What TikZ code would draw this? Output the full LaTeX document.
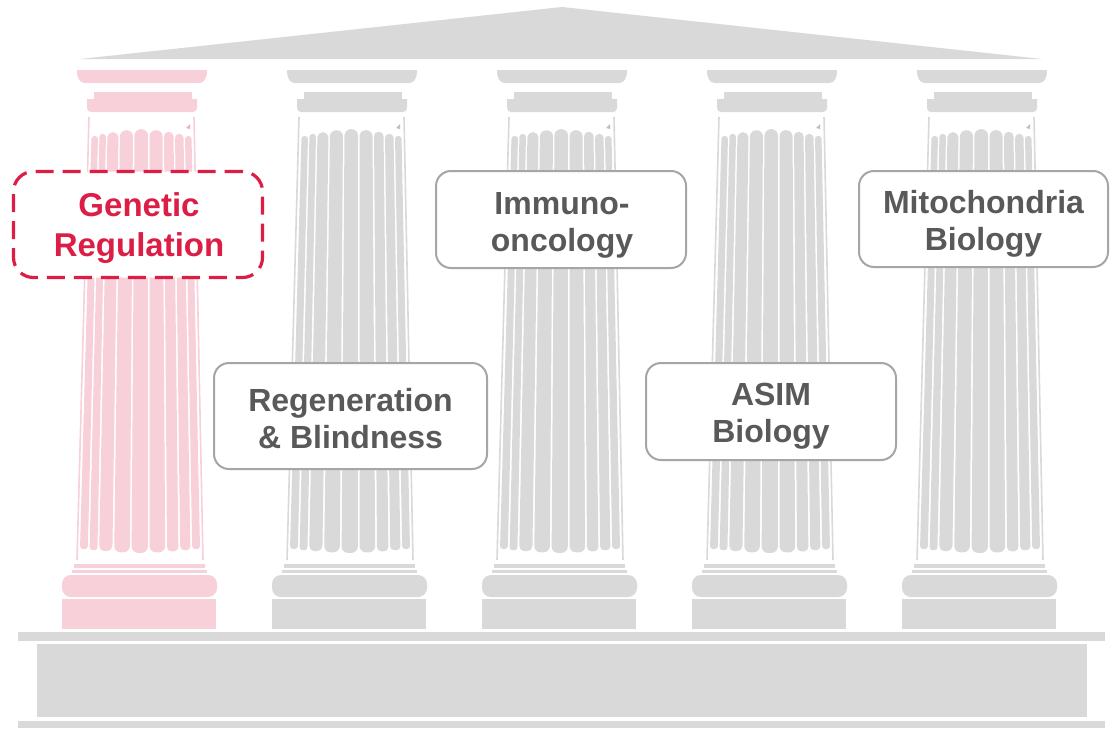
\documentclass[tikz,border=0pt]{standalone}
\usepackage{fontspec}
\setmainfont{Liberation Sans}
\definecolor{colgray}{HTML}{D9D9D9}
\definecolor{colpink}{HTML}{F8D0DA}
\definecolor{markgray}{HTML}{BFBFBF}
\definecolor{markpink}{HTML}{EFAFC0}
\definecolor{crim}{HTML}{DC1E46}
\definecolor{txtgray}{HTML}{595959}
\definecolor{boxgray}{HTML}{A6A6A6}

\newcommand{\greekcolumn}[3]{% #1 centre x, #2 colour, #3 mark colour
  % echinus
  \fill[#2] ({#1-62},70) -- ({#1+68},70) .. controls ({#1+68},79) and ({#1+65},83) .. ({#1+60},83)
     -- ({#1-54},83) .. controls ({#1-59},83) and ({#1-62},79) .. cycle;
  % abacus
  \fill[#2] ({#1-45},92) rectangle ({#1+53},99.5);
  \fill[#2] ({#1-52},99) -- ({#1+58},99) [rounded corners=4pt] -- ({#1+58},112) -- ({#1-52},112) [sharp corners] -- cycle;
  % shaft outline
  \draw[#2,line width=1.6pt] ({#1-50},117) -- ({#1-62},560);
  \draw[#2,line width=1.6pt] ({#1+55},117) -- ({#1+64},560);
  \fill[#3] ({#1+47},128) -- ({#1+51},124) -- ({#1+51},129) -- cycle;
  % flutes
  \foreach \fa/\fb in {-1/-0.87, -0.84/-0.71, -0.68/-0.46, -0.43/-0.17, -0.14/0.13, 0.16/0.42, 0.45/0.64, 0.67/0.84, 0.87/1.0} {
    \pgfmathsetmacro\fm{max(abs(\fa),abs(\fb))}
    \pgfmathsetmacro\fyt{129+7*\fm*\fm}
    \pgfmathsetmacro\fyb{553-4*\fm*\fm}
    \pgfmathsetmacro\fr{min(7,(\fb-\fa)*25-0.3)}
    \fill[#2,rounded corners=\fr pt] ({#1+2.5+\fa*50},\fyt) -- ({#1+2.5+\fb*50},\fyt)
       -- ({#1+1+\fb*60},\fyb) -- ({#1+1+\fa*60},\fyb) -- cycle;
  }
  % base
  \fill[#2] ({#1-65},564) rectangle ({#1+66},568);
  \fill[#2] ({#1-67},570) rectangle ({#1+68},573);
  \fill[#2,rounded corners=9pt] ({#1-77},575) rectangle ({#1+78},597);
  \fill[#2] ({#1-77},598.5) rectangle ({#1+77},629);
}

\tikzset{
  topicbox/.style={draw=boxgray, line width=2pt, fill=white, rounded corners=15pt, inner sep=0pt},
  genbox/.style={draw=crim, line width=3.2pt, fill=white, rounded corners=20pt,
                 dash pattern=on 18pt off 9pt, inner sep=0pt},
  topictext/.style={text=txtgray, font=\fontsize{32}{37}\selectfont\bfseries,
                    align=center, inner sep=0pt, anchor=north},
  gentext/.style={text=crim, font=\fontsize{33}{40}\selectfont\bfseries,
                  align=center, inner sep=0pt, anchor=north},
}

\begin{document}
\begin{tikzpicture}[x=1pt,y=-1pt]
  \useasboundingbox (0,0) rectangle (1115,728);
  \fill[white] (0,0) rectangle (1115,728);
  % roof
  \fill[colgray] (80,59) -- (562,7) -- (1042,59) -- cycle;
  % columns
  \greekcolumn{139}{colpink}{markpink}
  \greekcolumn{349}{colgray}{markgray}
  \greekcolumn{559}{colgray}{markgray}
  \greekcolumn{769}{colgray}{markgray}
  \greekcolumn{979}{colgray}{markgray}
  % stylobate and base
  \fill[colgray] (18,632) rectangle (1105,641);
  \fill[colgray] (37,644) rectangle (1087,717);
  \fill[colgray] (18,721) rectangle (1105,728);

  % topic boxes
  \node[genbox, minimum width=249pt, minimum height=106pt] (genbox) at (138,224.5) {};
  \node[gentext] (gentxt) at (139,192.5) {Genetic\\Regulation};

  \node[topicbox, minimum width=250pt, minimum height=97pt] (immbox) at (561,219.5) {};
  \node[topictext] (immtxt) at (562,192) {Immuno-\\oncology};

  \node[topicbox, minimum width=249pt, minimum height=96pt] (mitobox) at (983.5,219) {};
  \node[topictext] (mitotxt) at (983.5,190) {Mitochondria\\Biology};

  \node[topicbox, minimum width=273pt, minimum height=106pt] (regbox) at (350.5,416) {};
  \node[topictext] (regtxt) at (350.5,388) {Regeneration\\\& Blindness};

  \node[topicbox, minimum width=250pt, minimum height=97pt] (asimbox) at (771,411.5) {};
  \node[topictext] (asimtxt) at (771,383) {ASIM\\Biology};
\end{tikzpicture}
\end{document}
